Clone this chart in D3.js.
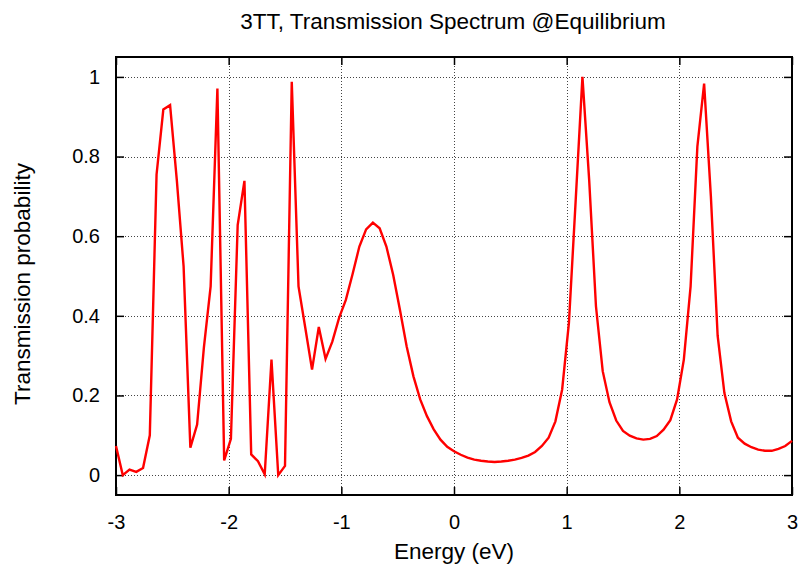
<!DOCTYPE html>
<html>
<head>
<meta charset="utf-8">
<script src="https://cdn.jsdelivr.net/npm/d3@7"></script>
<style>
  html, body { margin: 0; padding: 0; background: #fff; }
  svg { display: block; font-family: "Liberation Sans", Arial, Helvetica, sans-serif; }
</style>
</head>
<body>
<svg id="chart" width="800" height="565"></svg>
<script>
const chartTitle = "3TT, Transmission Spectrum @Equilibrium";
const xLabel = "Energy (eV)";
const yLabel = "Transmission probability";
const xTicks = [-3, -2, -1, 0, 1, 2, 3];
const yTicks = [0, 0.2, 0.4, 0.6, 0.8, 1];
const yTickLabels = ["0", "0.2", "0.4", "0.6", "0.8", "1"];

const energy = [
  -3.00, -2.94, -2.88, -2.82, -2.76, -2.70, -2.64, -2.58, -2.52, -2.46,
  -2.40, -2.34, -2.28, -2.22, -2.16, -2.10, -2.04, -1.98, -1.92, -1.86,
  -1.80, -1.74, -1.68, -1.62, -1.56, -1.50, -1.44, -1.38, -1.32, -1.26,
  -1.20, -1.14, -1.08, -1.02, -0.96, -0.90, -0.84, -0.78, -0.72, -0.66,
  -0.60, -0.54, -0.48, -0.42, -0.36, -0.30, -0.24, -0.18, -0.12, -0.06,
   0.00,  0.06,  0.12,  0.18,  0.24,  0.30,  0.36,  0.42,  0.48,  0.54,
   0.60,  0.66,  0.72,  0.78,  0.84,  0.90,  0.96,  1.02,  1.08,  1.14,
   1.20,  1.26,  1.32,  1.38,  1.44,  1.50,  1.56,  1.62,  1.68,  1.74,
   1.80,  1.86,  1.92,  1.98,  2.04,  2.10,  2.16,  2.22,  2.28,  2.34,
   2.40,  2.46,  2.52,  2.58,  2.64,  2.70,  2.76,  2.82,  2.88,  2.94,
   3.00
];
const transmission = [
  0.073, 0.000, 0.014, 0.008, 0.018, 0.100, 0.755, 0.918, 0.929, 0.740,
  0.524, 0.069, 0.127, 0.320, 0.474, 0.971, 0.037, 0.091, 0.628, 0.739,
  0.052, 0.035, 0.002, 0.290, 0.000, 0.023, 0.988, 0.474, 0.370, 0.265,
  0.372, 0.292, 0.335, 0.395, 0.440, 0.505, 0.574, 0.617, 0.634, 0.620,
  0.574, 0.503, 0.415, 0.323, 0.248, 0.190, 0.148, 0.115, 0.089, 0.071,
  0.060, 0.051, 0.044, 0.039, 0.036, 0.034, 0.033, 0.034, 0.036, 0.039,
  0.043, 0.049, 0.058, 0.073, 0.094, 0.135, 0.215, 0.382, 0.690, 1.000,
  0.740, 0.424, 0.261, 0.183, 0.137, 0.111, 0.099, 0.092, 0.089, 0.091,
  0.098, 0.114, 0.138, 0.190, 0.290, 0.474, 0.825, 0.983, 0.700, 0.350,
  0.206, 0.135, 0.094, 0.079, 0.070, 0.064, 0.061, 0.061, 0.066, 0.073,
  0.086
];

const margin = { left: 116, right: 8, top: 57, bottom: 70 };
const W = 800, H = 565;
const svg = d3.select("#chart");
const x = d3.scaleLinear().domain([-3, 3]).range([margin.left, W - margin.right]);
const y = d3.scaleLinear().domain([-0.05, 1.05]).range([H - margin.bottom, margin.top]);
const x0 = x.range()[0], x1 = x.range()[1], y0 = y.range()[0], y1 = y.range()[1];

// grid
const grid = svg.append("g").attr("stroke", "#444").attr("stroke-width", 1).attr("stroke-dasharray", "1,2");
grid.selectAll("line.gx").data(xTicks.slice(1, -1)).join("line")
  .attr("x1", d => Math.round(x(d)) + 0.5).attr("x2", d => Math.round(x(d)) + 0.5)
  .attr("y1", y1).attr("y2", y0);
grid.selectAll("line.gy").data(yTicks).join("line")
  .attr("y1", d => Math.round(y(d)) + 0.5).attr("y2", d => Math.round(y(d)) + 0.5)
  .attr("x1", x0).attr("x2", x1);

// axes with inward ticks (mirrored)
const tickLen = 8;
const tickFont = 20;
const labelFont = 22.5;
const axB = svg.append("g").attr("transform", `translate(0,${y0})`)
  .call(d3.axisBottom(x).tickValues(xTicks).tickSize(-tickLen).tickPadding(tickLen + 12).tickFormat(d3.format("d")));
const axT = svg.append("g").attr("transform", `translate(0,${y1})`)
  .call(d3.axisTop(x).tickValues(xTicks).tickSize(-tickLen).tickFormat(""));
const axL = svg.append("g").attr("transform", `translate(${x0},0)`)
  .call(d3.axisLeft(y).tickValues(yTicks).tickSize(-tickLen).tickPadding(tickLen + 8).tickFormat((d, i) => yTickLabels[i]));
const axR = svg.append("g").attr("transform", `translate(${x1},0)`)
  .call(d3.axisRight(y).tickValues(yTicks).tickSize(-tickLen).tickFormat(""));
[axB, axT, axL, axR].forEach(a => {
  a.select(".domain").remove();
  a.selectAll(".tick line").attr("stroke", "#000").attr("stroke-width", 1.5);
  a.selectAll("text").attr("font-size", tickFont).attr("font-family", null).attr("fill", "#000");
});
axB.selectAll("text").text(d => d < 0 ? "-" + Math.abs(d) : String(d));

// frame
svg.append("rect").attr("x", x0).attr("y", y1).attr("width", x1 - x0).attr("height", y0 - y1)
  .attr("fill", "none").attr("stroke", "#000").attr("stroke-width", 2);

// curve
const pts = energy.map((e, i) => [e, transmission[i]]);
svg.append("path").datum(pts)
  .attr("fill", "none").attr("stroke", "#ff0000").attr("stroke-width", 2.4).attr("stroke-linejoin", "miter")
  .attr("d", d3.line().x(d => x(d[0])).y(d => y(d[1])));

// labels
svg.append("text").attr("x", 453).attr("y", 29).attr("text-anchor", "middle")
  .attr("font-size", labelFont).text(chartTitle);
svg.append("text").attr("x", 454).attr("y", 559).attr("text-anchor", "middle")
  .attr("font-size", labelFont).text(xLabel);
svg.append("text").attr("transform", `translate(30,${(y0 + y1) / 2 + 8}) rotate(-90)`).attr("text-anchor", "middle")
  .attr("font-size", labelFont).text(yLabel);
</script>
</body>
</html>
